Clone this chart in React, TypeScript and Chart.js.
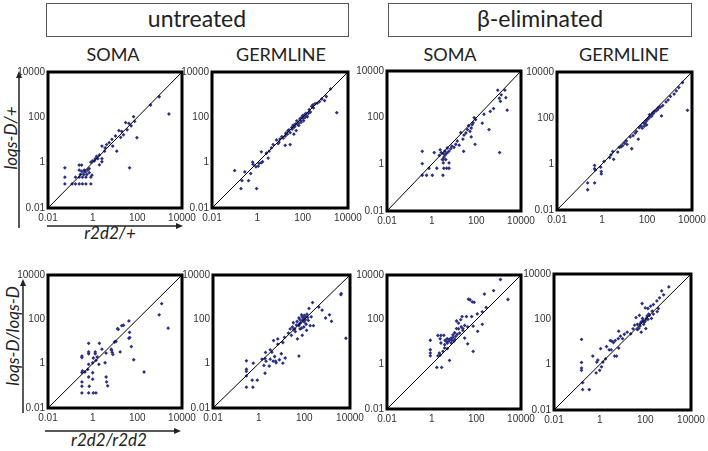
import React, { useEffect, useRef } from 'react';
import { Chart, registerables } from 'chart.js';

Chart.register(...registerables);

// ---- axis ticks ----
const tickValues = [0.01, 1, 100, 10000];
const tickLabels = ['0.01', '1', '100', '10000'];
const diagonalLine = [
  { x: 0.01, y: 0.01 },
  { x: 10000, y: 10000 },
];

// ---- titles ----
const groupTitles = ['untreated', 'β-eliminated'];
const tissueTitles = ['SOMA', 'GERMLINE', 'SOMA', 'GERMLINE'];
const rowYLabels = ['loqs-D/+', 'loqs-D/loqs-D'];
const rowXLabels = ['r2d2/+', 'r2d2/r2d2'];

type P = [number, number];

// ---- data: [x (r2d2), y (loqs-D)] ----
const untreatedSomaHet: P[] = [
  [950, 810], [390, 350], [2600, 140], [68, 107], [30, 59], [42, 54], [53, 42], [76, 66], [96, 12.6],
  [24, 17], [15, 26], [10.5, 15], [7.3, 10.7], [5.5, 7.6], [4.2, 6.3], [3.6, 4.5], [2.6, 5.4], [7.9, 5.4],
  [12, 3.2], [3.4, 3.2], [2, 2.2], [1.5, 1.9], [1.3, 1.5], [1, 1.2], [0.83, 1.05], [1.2, 1.2], [1.7, 1.5],
  [2.6, 1.5], [2.6, 1.1], [2, 0.8], [0.7, 0.55], [0.6, 0.47], [0.47, 0.39], [0.25, 0.78], [0.32, 0.78],
  [0.25, 0.47], [0.32, 0.42], [0.42, 0.47], [0.7, 0.36], [0.93, 0.28], [45, 0.59], [0.057, 0.59],
  [0.057, 0.23], [0.057, 0.115], [0.12, 0.115], [0.17, 0.115], [0.25, 0.115], [0.35, 0.115], [0.5, 0.115],
  [0.83, 0.115], [0.17, 0.23], [0.25, 0.23], [0.35, 0.23], [0.5, 0.23], [0.83, 0.23], [0.28, 0.3],
  [0.4, 0.3], [0.55, 0.3], [20, 24], [18, 13], [35, 28],
];

const untreatedGermHet: P[] = [
  [1700, 1800], [1100, 830], [930, 550], [550, 500], [700, 650], [440, 420], [280, 350], [3200, 160],
  [195, 220], [140, 150], [160, 105], [107, 87], [81, 72], [62, 62], [48, 51], [68, 44], [41, 36], [34, 30],
  [52, 26], [28, 21], [21, 18], [17, 15], [41, 18], [28, 6.3], [17, 5.8], [8.3, 7], [7, 10], [5, 6.3],
  [4.2, 4.5], [3.3, 3.2], [2.5, 2.6], [1.5, 3], [3, 1.6], [1.7, 1.1], [1.2, 0.93], [1.5, 1.0], [0.62, 1.05],
  [0.65, 0.85], [0.87, 0.66], [1.1, 0.7], [0.51, 0.33], [0.28, 0.39], [0.41, 0.16], [0.21, 0.16], [0.1, 0.45],
  [0.19, 0.072], [0.93, 0.072], [120, 130], [90, 100], [75, 85], [65, 55], [55, 70], [45, 40], [38, 45],
  [33, 36], [25, 28], [22, 25], [18, 20], [14, 12], [12, 14], [10, 11], [9, 8], [200, 180], [250, 300],
  [300, 260], [350, 400], [150, 120], [110, 70], [85, 60], [60, 48], [100, 120], [130, 100], [180, 150],
  [220, 170],
];

const betaSomaHet: P[] = [
  [1900, 1500], [910, 1500], [1300, 950], [1070, 680], [2100, 720], [1200, 500], [2400, 210], [590, 245],
  [420, 185], [220, 140], [185, 58], [370, 31], [1100, 3.2], [93, 83], [72, 60], [59, 36], [52, 26], [40, 31],
  [34, 22], [28, 18], [20, 23], [59, 15], [87, 7.2], [27, 3.6], [17, 6.6], [12, 7.2], [10, 5.4], [7.2, 4.7],
  [6, 3.7], [5, 3.1], [3.9, 3.7], [3.3, 2.9], [3.5, 2.0], [3, 1.6], [2.4, 4.2], [2.7, 3.2], [4.5, 3],
  [4.3, 1.6], [3.3, 1.15], [2.2, 2.4], [1.3, 3.2], [0.38, 3.6], [0.38, 1.07], [0.76, 0.68], [1.7, 0.68],
  [3.5, 0.68], [4.7, 0.68], [6, 0.68], [3.2, 0.34], [0.38, 0.34], [0.59, 0.34], [1.07, 0.34], [6, 1.15],
  [3.3, 1.6], [4, 2.5], [5, 5], [8, 6], [14, 10], [25, 12], [45, 45], [65, 50], [80, 100],
];

const betaGermHet: P[] = [
  [3800, 3500], [2600, 2100], [2000, 1500], [1600, 1100], [1100, 870], [870, 610], [700, 500], [6300, 215],
  [500, 350], [400, 300], [300, 230], [250, 200], [440, 123], [195, 160], [170, 140], [138, 115], [120, 100],
  [96, 81], [81, 58], [76, 44], [96, 50], [62, 36], [34, 26], [30, 22], [24, 17], [18, 15], [41, 12],
  [13, 7.1], [8.3, 6.3], [7, 5.5], [5.9, 5.3], [21, 4.6], [5, 3.3], [3, 3.5], [2.5, 2.5], [3.3, 1.6],
  [2.2, 1.9], [1.23, 1.3], [0.87, 0.73], [0.47, 0.87], [0.47, 0.62], [0.5, 0.55], [0.93, 0.47], [0.93, 0.37],
  [0.23, 0.15], [0.47, 0.15], [0.23, 0.076], [150, 130], [180, 170], [220, 200], [110, 90], [130, 140],
  [160, 120], [90, 70], [70, 60], [55, 45], [45, 38], [300, 260], [350, 300], [12, 10], [10, 8],
];

const untreatedSomaHom: P[] = [
  [1230, 510], [950, 160], [2400, 40], [42, 85], [24, 54], [20, 52], [13, 38], [14, 35], [45, 26], [42, 14],
  [46, 15], [11, 10], [9.5, 9.5], [6.8, 4.5], [7.5, 3.2], [17, 3.4], [54, 5.9], [69, 1.5], [200, 0.42],
  [2, 8.3], [0.66, 8.3], [0.66, 3.4], [0.66, 2.8], [1.3, 3.4], [1.3, 2.8], [2.6, 4.5], [3.6, 1.1], [4, 3],
  [1.9, 0.93], [1.4, 1.4], [1.07, 1.8], [1, 1.1], [0.33, 2.2], [0.33, 1.9], [0.35, 0.47], [0.33, 0.4],
  [0.45, 0.42], [0.66, 0.93], [0.6, 0.55], [1, 0.39], [0.66, 0.25], [1, 0.2], [0.7, 0.096], [0.33, 0.15],
  [0.33, 0.096], [0.33, 0.048], [0.66, 0.048], [1.07, 0.048], [1.4, 0.048], [4, 0.25], [4.2, 0.15],
  [4.7, 0.1], [1.6, 2.0], [7, 4], [8, 2.6],
];

const untreatedGermHom: P[] = [
  [4000, 1300], [4100, 1450], [6600, 14], [1260, 160], [1550, 81], [850, 115], [600, 260], [430, 360],
  [230, 570], [160, 310], [130, 170], [76, 160], [91, 110], [58, 115], [58, 52], [48, 80], [38, 37], [33, 70],
  [65, 37], [150, 89], [180, 52], [250, 52], [126, 32], [81, 19], [50, 13], [27, 19], [24, 37], [20, 24],
  [13.5, 15.5], [11.5, 9], [6.9, 7.6], [6.9, 13], [4.5, 11], [3.2, 4.2], [9.8, 2.8], [14.5, 1.8], [58, 2.2],
  [2, 3.2], [3.8, 3.3], [5, 2.1], [8.1, 1.5], [11.5, 1.05], [5.8, 1.1], [4.3, 1.3], [3.2, 1.6], [2.1, 1.3],
  [1.9, 1.7], [1.4, 1.6], [1.7, 0.83], [2.9, 0.78], [5.5, 1.3], [0.58, 1.05], [0.29, 1.35], [0.29, 0.56],
  [0.29, 0.45], [0.29, 0.28], [1.9, 0.37], [0.52, 0.18], [0.87, 0.18], [0.29, 0.087], [0.56, 0.087],
  [70, 70], [85, 90], [100, 75], [110, 130], [120, 60], [95, 45], [75, 40], [60, 62], [45, 55], [40, 28],
  [30, 45], [35, 35], [140, 120], [200, 130], [110, 95], [80, 130], [65, 95], [100, 150],
];

const betaSomaHom: P[] = [
  [1200, 6300], [590, 2000], [230, 1400], [2600, 800], [44, 830], [52, 780], [66, 630], [80, 600],
  [275, 355], [185, 225], [110, 180], [62, 138], [36, 138], [23, 138], [20, 100], [13, 87], [16, 70],
  [72, 51], [41, 48], [21, 48], [25, 33], [16, 39], [185, 62], [115, 30], [30, 15], [41, 8.3], [72, 3.8],
  [10.7, 26], [9, 21], [7.5, 15], [6.3, 13], [5, 9], [7.5, 9], [10, 11], [4.5, 10.7], [3.8, 7.6], [3.5, 20],
  [2.6, 19.5], [1.9, 19.5], [2.4, 14], [2.6, 9], [3.8, 5.4], [5, 5], [3.2, 3.8], [2.2, 3.2], [2.4, 2.6],
  [0.87, 12], [0.87, 4.5], [0.87, 3.2], [0.87, 2.4], [1.9, 2.4], [6.3, 1.5], [1.7, 0.73], [2.8, 0.73],
  [8, 12], [9, 16], [12, 18], [6, 11], [5, 14], [4, 12], [11, 13], [14, 22], [18, 25], [25, 40], [30, 55],
  [13, 40],
];

const betaGermHom: P[] = [
  [1070, 2700], [520, 1800], [630, 1200], [420, 890], [320, 650], [225, 450], [170, 380], [130, 300],
  [100, 320], [72, 500], [370, 300], [330, 220], [225, 170], [185, 110], [140, 170], [110, 110], [66, 78],
  [59, 51], [52, 40], [39, 120], [55, 150], [85, 60], [105, 39], [66, 27], [34, 55], [29, 38], [23, 23],
  [16, 27], [12, 22], [6.8, 30], [8.1, 18], [6.5, 14], [10, 14], [4.8, 11.5], [4, 9.5], [3.4, 11], [2.9, 11.5],
  [6.8, 5.4], [4.5, 2.4], [5.5, 2.4], [3.2, 4.5], [2.6, 4.5], [2, 6.3], [1.1, 5.1], [0.5, 2.4], [0.83, 1.6],
  [0.75, 1.3], [1.2, 0.8], [1, 0.56], [0.7, 0.43], [1.8, 1.8], [1.4, 1.3], [0.16, 13], [0.16, 1.26],
  [0.16, 0.71], [0.16, 0.56], [0.18, 0.16], [0.18, 0.08], [0.35, 0.08], [80, 90], [90, 75], [120, 140],
  [150, 150], [200, 230], [75, 110], [60, 65], [45, 60], [100, 85], [130, 100], [45, 35],
];

// ---- layout ----
const Y_W = 45;
const X_H = 22;
const PAD_T = 10;
const PAD_R = 22;
const POINT_COLOR = '#2b2f86';
const TICK_FONT = { family: '"Liberation Sans", Arial, sans-serif', size: 10 };

const framePlugin = {
  id: 'frame',
  afterDatasetsDraw(chart: any) {
    const { ctx, chartArea: a } = chart;
    ctx.save();
    ctx.strokeStyle = '#000';
    ctx.lineWidth = 3;
    ctx.strokeRect(a.left, a.top, a.right - a.left, a.bottom - a.top);
    ctx.restore();
  },
};

const labelFor = (v: number) => {
  const i = tickValues.findIndex((t) => Math.abs(t - v) / t < 1e-6);
  return i >= 0 ? tickLabels[i] : '';
};

type Box = [number, number, number, number];

function Panel({ data, box }: { data: P[]; box: Box }) {
  const ref = useRef<HTMLCanvasElement>(null);
  const [l, t, r, b] = box;
  const w = r - l + Y_W + PAD_R;
  const h = b - t + PAD_T + X_H;
  useEffect(() => {
    const axis = (isX: boolean) => ({
      type: 'logarithmic' as const,
      min: 0.01,
      max: 10000,
      grid: { display: false, drawTicks: false },
      border: { display: false },
      afterBuildTicks: (s: any) => {
        s.ticks = tickValues.map((v) => ({ value: v }));
      },
      afterFit: (s: any) => {
        if (isX) s.height = X_H;
        else s.width = Y_W;
      },
      ticks: {
        callback: (v: any) => labelFor(Number(v)),
        font: TICK_FONT,
        color: '#333',
        padding: isX ? 4 : 3,
        autoSkip: false,
        maxRotation: 0,
        minRotation: 0,
      },
    });
    const chart = new Chart(ref.current as HTMLCanvasElement, {
      type: 'scatter',
      data: {
        datasets: [
          {
            type: 'line',
            data: diagonalLine,
            borderColor: '#000',
            borderWidth: 1,
            pointRadius: 0,
            fill: false,
          } as any,
          {
            data: data.map(([x, y]) => ({ x, y })),
            pointStyle: 'rectRot',
            pointRadius: 1.9,
            backgroundColor: POINT_COLOR,
            borderColor: POINT_COLOR,
            borderWidth: 0,
          },
        ],
      },
      options: {
        responsive: false,
        animation: false,
        devicePixelRatio: 1,
        layout: { padding: { top: PAD_T, right: PAD_R, left: 0, bottom: 0 } },
        plugins: { legend: { display: false }, tooltip: { enabled: false } },
        scales: { x: axis(true), y: axis(false) } as any,
      },
      plugins: [framePlugin],
    });
    return () => chart.destroy();
  }, []);
  return (
    <canvas
      ref={ref}
      width={w}
      height={h}
      style={{ position: 'absolute', left: l - Y_W, top: t - PAD_T, width: w, height: h }}
    />
  );
}

const panels: { data: P[]; box: Box }[] = [
  { data: untreatedSomaHet, box: [48, 72, 182, 208] },
  { data: untreatedGermHet, box: [212, 72, 348, 208] },
  { data: betaSomaHet, box: [387, 71, 521, 211] },
  { data: betaGermHet, box: [557, 72, 692, 210] },
  { data: untreatedSomaHom, box: [48, 275, 182, 408] },
  { data: untreatedGermHom, box: [213, 275, 350, 408] },
  { data: betaSomaHom, box: [387, 275, 521, 409] },
  { data: betaGermHom, box: [554, 274, 691, 410] },
];

const HEAD_FONT = 'Lato, "Open Sans", sans-serif';

function Arrow({ x1, y1, x2, y2 }: { x1: number; y1: number; x2: number; y2: number }) {
  const ang = Math.atan2(y2 - y1, x2 - x1);
  const len = 7;
  const half = 3;
  const bx = x2 - len * Math.cos(ang);
  const by = y2 - len * Math.sin(ang);
  const px = -Math.sin(ang) * half;
  const py = Math.cos(ang) * half;
  return (
    <g>
      <line x1={x1} y1={y1} x2={bx} y2={by} stroke="#222" strokeWidth={1.5} />
      <polygon points={`${x2},${y2} ${bx + px},${by + py} ${bx - px},${by - py}`} fill="#222" />
    </g>
  );
}

export default function App() {
  return (
    <div style={{ position: 'absolute', left: 0, top: 0, width: 708, height: 451, background: '#fff', overflow: 'hidden' }}>
      <svg width={708} height={451} style={{ position: 'absolute', left: 0, top: 0 }}>
        <rect x={46.5} y={3.5} width={302} height={33} fill="none" stroke="#555" strokeWidth={1} />
        <rect x={388.5} y={3.5} width={303} height={33} fill="none" stroke="#555" strokeWidth={1} />
        <text x={197} y={27} textAnchor="middle" fontFamily={HEAD_FONT} fontSize={23} fill="#222">{groupTitles[0]}</text>
        <text x={540} y={27} textAnchor="middle" fontFamily={HEAD_FONT} fontSize={23} fill="#222">{groupTitles[1]}</text>
        {[113, 281, 450, 624].map((cx, i) => (
          <text key={i} x={cx} y={61} textAnchor="middle" fontFamily={HEAD_FONT} fontSize={18} fill="#222">{tissueTitles[i]}</text>
        ))}
        <text x={17} y={138} transform="rotate(-90 17 138)" textAnchor="middle" fontFamily={HEAD_FONT} fontStyle="italic" fontSize={17} fill="#222">{rowYLabels[0]}</text>
        <text x={110} y={239} textAnchor="middle" fontFamily={HEAD_FONT} fontStyle="italic" fontSize={17} fill="#222">{rowXLabels[0]}</text>
        <text x={19} y={336} transform="rotate(-90 19 336)" textAnchor="middle" fontFamily={HEAD_FONT} fontStyle="italic" fontSize={17} fill="#222">{rowYLabels[1]}</text>
        <text x={109} y={446} textAnchor="middle" fontFamily={HEAD_FONT} fontStyle="italic" fontSize={17} fill="#222">{rowXLabels[1]}</text>
        <Arrow x1={19} y1={228} x2={19} y2={71} />
        <Arrow x1={47} y1={226} x2={183} y2={226} />
        <Arrow x1={23} y1={413} x2={23} y2={279} />
        <Arrow x1={45} y1={431} x2={181} y2={431} />
      </svg>
      {panels.map((p, i) => (
        <Panel key={i} data={p.data} box={p.box} />
      ))}
    </div>
  );
}
